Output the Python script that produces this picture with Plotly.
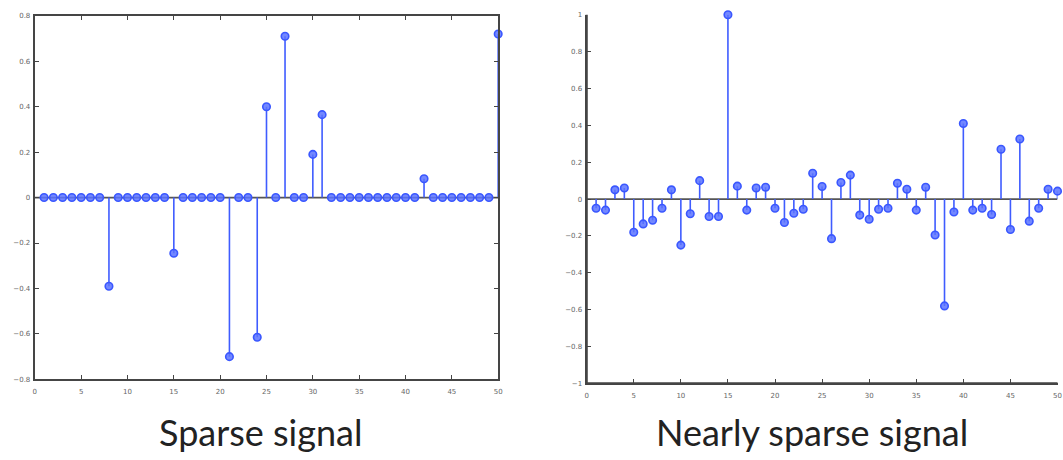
import plotly.graph_objects as go

# ---- data ----
n = list(range(1, 51))

sparse_idx = [8, 15, 21, 24, 25, 27, 30, 31, 42, 50]
sparse_val = [-0.39, -0.245, -0.70, -0.615, 0.40, 0.71, 0.19, 0.365, 0.083, 0.72]

nearly_sparse = [
    -0.05, -0.06, 0.05, 0.06, -0.18, -0.135, -0.115, -0.05, 0.05, -0.25,
    -0.08, 0.10, -0.095, -0.095, 1.0, 0.07, -0.06, 0.06, 0.064, -0.05,
    -0.127, -0.077, -0.055, 0.14, 0.068, -0.215, 0.09, 0.13, -0.087, -0.11,
    -0.055, -0.05, 0.086, 0.053, -0.06, 0.064, -0.195, -0.58, -0.07, 0.41,
    -0.06, -0.05, -0.084, 0.27, -0.165, 0.326, -0.12, -0.05, 0.053, 0.043,
]

left_yticks = [-0.8, -0.6, -0.4, -0.2, 0, 0.2, 0.4, 0.6, 0.8]
right_yticks = [-1, -0.8, -0.6, -0.4, -0.2, 0, 0.2, 0.4, 0.6, 0.8, 1]
xticks = [0, 5, 10, 15, 20, 25, 30, 35, 40, 45, 50]
titles = ["Sparse signal", "Nearly sparse signal"]

sparse = [0.0] * len(n)
for i, v in zip(sparse_idx, sparse_val):
    sparse[i - 1] = v

W, H = 1063, 460
STEM = "#3f5cff"
MARK = "#3a57ff"
AX = "#454545"


def stems(xs, ys):
    sx, sy = [], []
    for x, y in zip(xs, ys):
        sx += [x, x, None]
        sy += [0, y, None]
    return sx, sy


fig = go.Figure()
for k, ys in enumerate([sparse, nearly_sparse]):
    xa = "x" if k == 0 else "x2"
    ya = "y" if k == 0 else "y2"
    sx, sy = stems(n, ys)
    fig.add_trace(go.Scatter(x=sx, y=sy, mode="lines", xaxis=xa, yaxis=ya,
                             line=dict(color=STEM, width=1.6), hoverinfo="skip",
                             showlegend=False, cliponaxis=False))
    fig.add_trace(go.Scatter(x=n, y=ys, mode="markers", xaxis=xa, yaxis=ya,
                             marker=dict(symbol="circle", size=7.5,
                                         color="rgba(90,115,255,0.85)",
                                         line=dict(color=MARK, width=1.6)),
                             showlegend=False, cliponaxis=False))

axcommon = dict(showgrid=False, ticks="inside", ticklen=4, tickwidth=1.2,
                tickcolor=AX, showline=True, linecolor=AX, linewidth=2.2,
                tickfont=dict(size=7, color="#666", family="DejaVu Sans"),
                zeroline=False, fixedrange=True)

frame = dict(color=AX, width=2.2)

fig.update_layout(
    width=W, height=H, margin=dict(l=0, r=0, t=0, b=0),
    paper_bgcolor="white", plot_bgcolor="white",
    xaxis=dict(domain=[33 / W, 499 / W], range=[0, 50], tickvals=xticks,
               mirror="ticks", anchor="y", ticklabelstandoff=4, **axcommon),
    yaxis=dict(domain=[(H - 382) / H, (H - 12) / H], range=[-0.8, 0.8],
               tickvals=left_yticks, mirror="ticks", anchor="x",
               ticklabelstandoff=1, **axcommon),
    xaxis2=dict(domain=[588 / W, 1061.5 / W], range=[0, 50], tickvals=xticks,
                anchor="y2", ticklabelstandoff=4, **axcommon),
    yaxis2=dict(domain=[(H - 386) / H, (H - 11) / H], range=[-1, 1],
                tickvals=right_yticks, anchor="x2", ticklabelstandoff=1,
                **axcommon),
    shapes=[
        dict(type="line", xref="x", yref="y", x0=0, x1=50, y0=0, y1=0,
             line=dict(color="#555", width=1.8), layer="below"),
        dict(type="line", xref="x2", yref="y2", x0=0, x1=50, y0=0, y1=0,
             line=dict(color="#555", width=1.8), layer="below"),
        dict(type="line", xref="x2 domain", yref="y2 domain", x0=0, x1=0,
             y0=0, y1=1, line=frame, layer="above"),
        dict(type="line", xref="x2 domain", yref="y2 domain", x0=0, x1=1,
             y0=0, y1=0, line=frame, layer="above"),
    ],
    annotations=[
        dict(text=titles[0], x=259.5 / W, y=(H - 436) / H, xref="paper",
             yref="paper", showarrow=False, xanchor="center", yanchor="middle",
             font=dict(size=36, family="Lato", color="#222")),
        dict(text=titles[1], x=815 / W, y=(H - 436) / H, xref="paper",
             yref="paper", showarrow=False, xanchor="center", yanchor="middle",
             font=dict(size=36, family="Lato", color="#222")),
    ],
)

fig.write_html("out.html")
